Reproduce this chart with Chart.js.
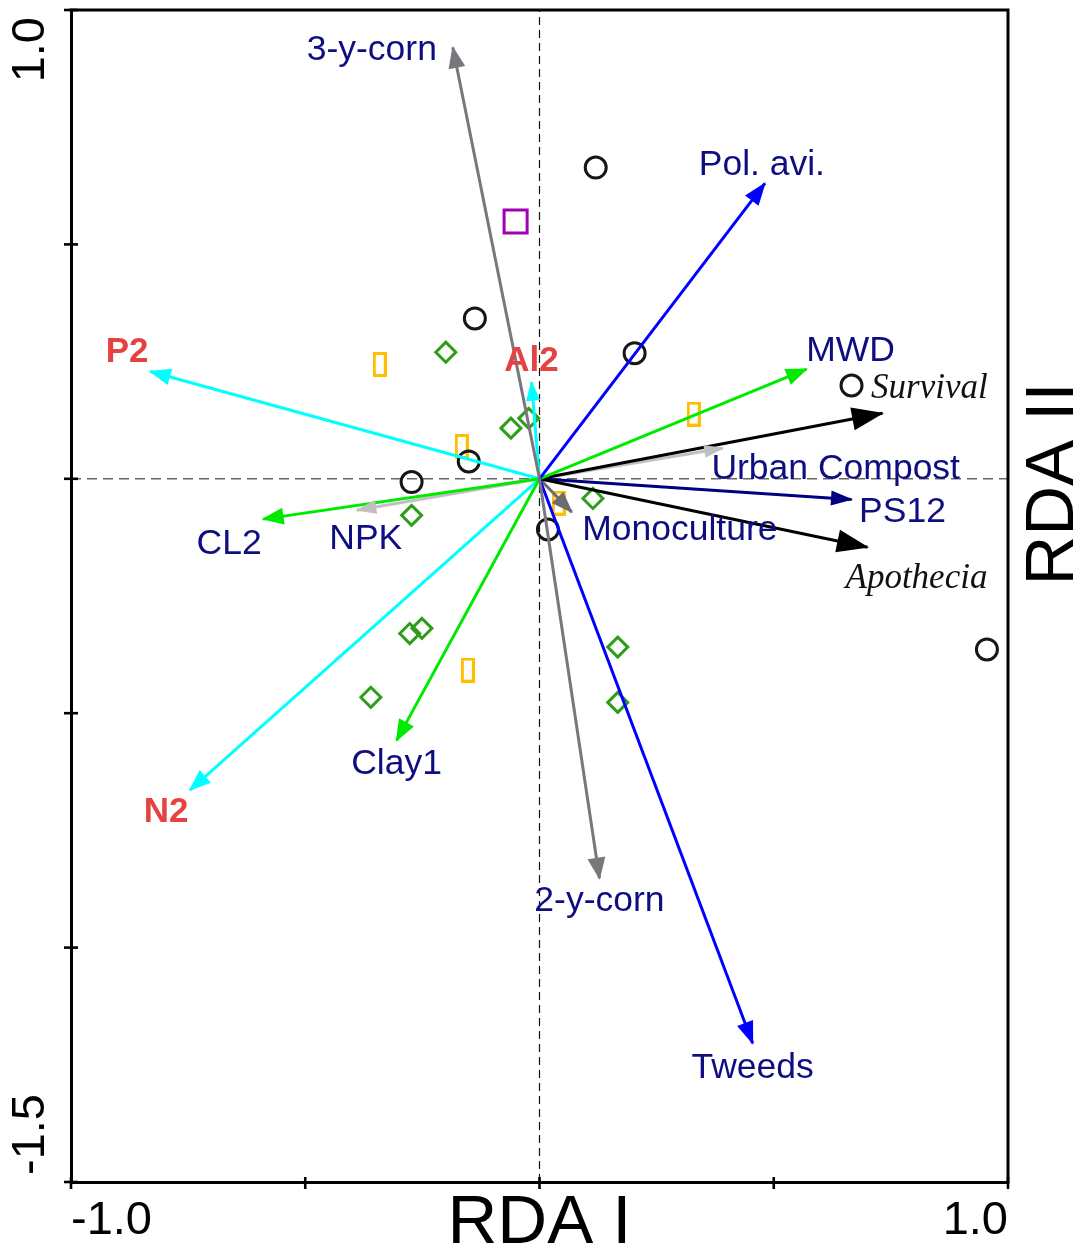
<!DOCTYPE html>
<html>
<head>
<meta charset="utf-8">
<title>RDA biplot</title>
<script src="https://cdn.jsdelivr.net/npm/chart.js@4.4.1/dist/chart.umd.min.js"></script>
<style>
html,body{margin:0;padding:0;background:#ffffff;}
#box{position:relative;width:1085px;height:1255px;}
canvas{display:block;}
</style>
</head>
<body>
<div id="box"><canvas id="chart" width="1085" height="1255"></canvas></div>
<script>
// ---------------- data ----------------
const xTickValues = [-1, -0.5, 0, 0.5, 1];
const xTickLabels = ['-1.0', '', '', '', '1.0'];
const yTickValues = [-1.5, -1, -0.5, 0, 0.5, 1];
const yTickLabels = ['-1.5', '', '', '', '', '1.0'];
const xTitle = 'RDA I';
const yTitle = 'RDA II';

const vectorLabels = ['3-y-corn', '2-y-corn', 'Pol. avi.', 'Tweeds', 'MWD', 'CL2', 'Clay1',
  'P2', 'N2', 'Al2', 'Survival', 'Apothecia', 'PS12', 'Urban Compost', 'NPK', 'Monoculture'];
const vectorRDA1 = [-0.185, 0.128, 0.481, 0.455, 0.570, -0.590, -0.305,
  -0.831, -0.746, -0.017, 0.732, 0.700, 0.666, 0.391, -0.390, 0.069];
const vectorRDA2 = [0.920, -0.852, 0.630, -1.204, 0.234, -0.086, -0.558,
  0.229, -0.664, 0.206, 0.140, -0.146, -0.044, 0.065, -0.067, -0.071];

const circleRDA1 = [0.120, -0.138, 0.203, 0.666, -0.151, -0.273, 0.018, 0.955];
const circleRDA2 = [0.664, 0.342, 0.268, 0.199, 0.037, -0.007, -0.108, -0.364];
const diamondRDA1 = [-0.200, -0.061, -0.023, -0.273, 0.114, -0.277, -0.251, -0.360, 0.167, 0.167];
const diamondRDA2 = [0.270, 0.108, 0.129, -0.078, -0.042, -0.330, -0.319, -0.466, -0.359, -0.477];
const rectRDA1 = [-0.341, -0.166, 0.329, 0.041, -0.153];
const rectRDA2 = [0.244, 0.069, 0.138, -0.052, -0.408];
const squareRDA1 = [-0.051];
const squareRDA2 = [0.549];

// ---------------- styles ----------------
const GRAY = '#78787c', BLUE = '#0000ff', GREEN = '#00ea00', CYAN = '#00ffff',
      BLACK = '#000000', NAVY = '#000080', LGRAY = '#c0c0c0', DGRAY = '#6c6c70';
const vectorColors = [GRAY, GRAY, BLUE, BLUE, GREEN, GREEN, GREEN,
  CYAN, CYAN, CYAN, BLACK, BLACK, NAVY, LGRAY, LGRAY, DGRAY];
const headLen  = [22, 22, 23, 23, 22, 22, 22, 22, 22, 20, 32, 32, 22, 20, 21, 22];
const headHalf = [8.5, 9, 8.5, 8.5, 8.5, 8.5, 8.5, 8.5, 8.5, 7, 11.5, 11.5, 7.5, 6.5, 7, 8];
const labelOffsets = [[-81, 3], [0, 23], [-3, -18], [0, 25], [44, -18], [-34, 25], [0, 24],
  [-23, -19], [-24, 22], [0, -21], [47, -24], [49, 32], [51, 13], [113, 21], [9, 29], [108, 18]];
const labelKinds = ['n', 'n', 'n', 'n', 'n', 'n', 'n', 'r', 'r', 'r', 'i', 'i', 'n', 'n', 'n', 'n'];

const SANS = '"Liberation Sans", Arial, sans-serif';
const SERIF = '"Liberation Serif", "Times New Roman", serif';

function tallRect(color) {
  const c = document.createElement('canvas');
  c.width = 14; c.height = 25;
  const g = c.getContext('2d');
  g.strokeStyle = color; g.lineWidth = 3;
  g.strokeRect(1.5, 1.5, 11, 22);
  return c;
}

// ---------------- datasets ----------------
const datasets = [];
vectorLabels.forEach((name, i) => {
  datasets.push({
    label: name,
    data: [{x: 0, y: 0}, {x: vectorRDA1[i], y: vectorRDA2[i]}],
    showLine: true,
    borderColor: vectorColors[i],
    borderWidth: 3,
    pointRadius: 0,
    order: 10
  });
});
datasets.push({
  label: 'sites A',
  data: circleRDA1.map((x, k) => ({x, y: circleRDA2[k]})),
  pointStyle: 'circle', pointRadius: 10.5, pointBorderWidth: 3,
  pointBorderColor: '#161616', pointBackgroundColor: 'rgba(0,0,0,0)', order: 20
});
datasets.push({
  label: 'sites B',
  data: diamondRDA1.map((x, k) => ({x, y: diamondRDA2[k]})),
  pointStyle: 'rectRot', pointRadius: 10, pointBorderWidth: 3,
  pointBorderColor: '#2e9e1a', pointBackgroundColor: 'rgba(0,0,0,0)', order: 20
});
datasets.push({
  label: 'sites C',
  data: rectRDA1.map((x, k) => ({x, y: rectRDA2[k]})),
  pointStyle: tallRect('#ffbf00'), pointRadius: 10, order: 20
});
datasets.push({
  label: 'sites D',
  data: squareRDA1.map((x, k) => ({x, y: squareRDA2[k]})),
  pointStyle: 'rect', pointRadius: 16.3, pointBorderWidth: 3,
  pointBorderColor: '#a100b4', pointBackgroundColor: 'rgba(0,0,0,0)', order: 20
});
datasets.push({
  label: 'zero RDA II',
  data: [{x: -1, y: 0}, {x: 1, y: 0}],
  showLine: true, borderColor: '#666666', borderWidth: 1.6, borderDash: [10, 6],
  pointRadius: 0, order: 30
});
datasets.push({
  label: 'zero RDA I',
  data: [{x: 0, y: -1.5}, {x: 0, y: 1}],
  showLine: true, borderColor: '#111111', borderWidth: 1.2, borderDash: [8, 5],
  pointRadius: 0, order: 30
});

// ---------------- decorations plugin ----------------
const rdaDecor = {
  id: 'rdaDecor',
  afterDatasetsDraw(chart) {
    const ctx = chart.ctx, xs = chart.scales.x, ys = chart.scales.y;
    const x0 = xs.getPixelForValue(0), y0 = ys.getPixelForValue(0);
    ctx.save();
    vectorLabels.forEach((name, i) => {
      const x1 = xs.getPixelForValue(vectorRDA1[i]);
      const y1 = ys.getPixelForValue(vectorRDA2[i]);
      const ang = Math.atan2(y1 - y0, x1 - x0);
      const c = Math.cos(ang), s = Math.sin(ang);
      const L = headLen[i], H = headHalf[i];
      const tx = x1 + 1.5 * c, ty = y1 + 1.5 * s;
      ctx.beginPath();
      ctx.moveTo(tx, ty);
      ctx.lineTo(tx - L * c + H * s, ty - L * s - H * c);
      ctx.lineTo(tx - L * c - H * s, ty - L * s + H * c);
      ctx.closePath();
      ctx.fillStyle = vectorColors[i];
      ctx.fill();
    });
    ctx.textAlign = 'center';
    ctx.textBaseline = 'middle';
    vectorLabels.forEach((name, i) => {
      const x1 = xs.getPixelForValue(vectorRDA1[i]);
      const y1 = ys.getPixelForValue(vectorRDA2[i]);
      const k = labelKinds[i];
      if (k === 'r') { ctx.font = 'bold 35px ' + SANS; ctx.fillStyle = '#e64242'; }
      else if (k === 'i') { ctx.font = 'italic 35px ' + SERIF; ctx.fillStyle = '#111111'; }
      else { ctx.font = '35.5px ' + SANS; ctx.fillStyle = '#0e0e80'; }
      ctx.fillText(name, x1 + labelOffsets[i][0], y1 + labelOffsets[i][1]);
    });
    ctx.restore();
  },
  afterDraw(chart) {
    const ctx = chart.ctx, a = chart.chartArea, xs = chart.scales.x, ys = chart.scales.y;
    ctx.save();
    ctx.strokeStyle = '#000';
    ctx.lineWidth = 3;
    ctx.beginPath();
    ctx.moveTo(a.left - 1.5, a.top);
    ctx.lineTo(a.right, a.top);
    ctx.lineTo(a.right, a.bottom + 1.5);
    ctx.stroke();
    // tick marks crossing the axes
    ctx.lineWidth = 2.6;
    xTickValues.forEach(v => {
      const p = xs.getPixelForValue(v);
      ctx.beginPath(); ctx.moveTo(p, a.bottom - 5); ctx.lineTo(p, a.bottom + 7); ctx.stroke();
    });
    yTickValues.forEach(v => {
      const p = ys.getPixelForValue(v);
      ctx.beginPath(); ctx.moveTo(a.left - 7, p); ctx.lineTo(a.left + 7, p); ctx.stroke();
    });
    // rotated y tick labels (inner aligned)
    ctx.fillStyle = '#000';
    ctx.font = '47px ' + SANS;
    ctx.textBaseline = 'middle';
    const last = yTickValues.length - 1;
    [[0, 'left', 7], [last, 'right', -7]].forEach(([idx, al, inset]) => {
      const p = ys.getPixelForValue(yTickValues[idx]);
      ctx.save();
      ctx.translate(31, p - inset);
      ctx.rotate(-Math.PI / 2);
      ctx.textAlign = al;
      ctx.fillText(yTickLabels[idx], 0, 0);
      ctx.restore();
    });
    // right-side axis title
    ctx.save();
    ctx.font = '69px ' + SANS;
    ctx.textAlign = 'center';
    ctx.translate(1054, 484);
    ctx.rotate(-Math.PI / 2);
    ctx.fillText(yTitle, 0, 0);
    ctx.restore();
    ctx.restore();
  }
};

// ---------------- chart ----------------
new Chart(document.getElementById('chart'), {
  type: 'scatter',
  data: {datasets},
  plugins: [rdaDecor],
  options: {
    responsive: false,
    animation: false,
    devicePixelRatio: 1,
    events: [],
    layout: {autoPadding: false, padding: {top: 10, right: 77, bottom: 0, left: 0}},
    plugins: {legend: {display: false}, tooltip: {enabled: false}},
    scales: {
      x: {
        type: 'linear', position: 'bottom', min: -1, max: 1,
        afterBuildTicks: s => { s.ticks = xTickValues.map(v => ({value: v})); },
        ticks: {
          display: true, align: 'inner', padding: 15.5, autoSkip: false,
          maxRotation: 0, minRotation: 0, color: '#000',
          font: {family: SANS, size: 47, lineHeight: 1},
          callback: v => xTickLabels[xTickValues.indexOf(v)]
        },
        grid: {display: false, drawTicks: false},
        border: {display: true, color: '#000', width: 3},
        title: {display: true, text: xTitle, color: '#000',
                font: {family: SANS, size: 69, lineHeight: 0.8}, padding: {top: 0, bottom: 3}},
        afterFit: s => { s.height = 73; }
      },
      y: {
        type: 'linear', position: 'left', min: -1.5, max: 1,
        afterBuildTicks: s => { s.ticks = yTickValues.map(v => ({value: v})); },
        ticks: {display: false},
        grid: {display: false, drawTicks: false},
        border: {display: true, color: '#000', width: 3},
        afterFit: s => { s.width = 71; }
      }
    }
  }
});
</script>
</body>
</html>
